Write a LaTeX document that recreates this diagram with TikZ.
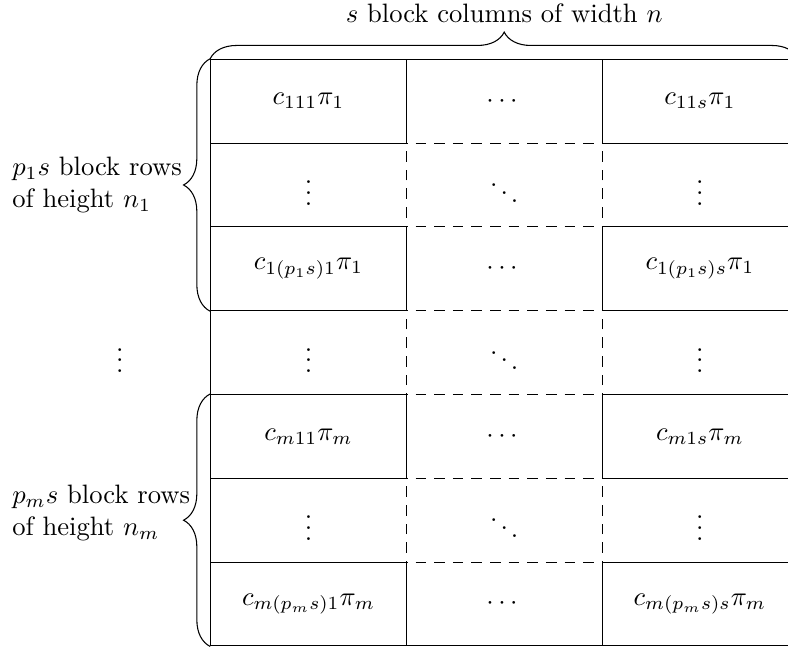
\documentclass[tikz,border=0pt]{standalone}
\usepackage{amsmath}
\usepackage{amssymb}
\usetikzlibrary{calc,decorations,decorations.pathreplacing,positioning}

\tikzset{
  cell/.style={minimum width=2.585cm,minimum height=1.107cm,inner sep=0pt},
  ccell/.style={cell,draw},
  brc/.style={decorate,decoration={brace,amplitude=10pt}},
  lbl/.style={anchor=west,align=left,inner sep=0pt}
}

\begin{document}
\begin{tikzpicture}
  \useasboundingbox (-2.783,0.783) rectangle (7.626,-7.777);
  % dashed block grid, solid outline
  \draw[dash pattern=on 4pt off 3pt] (0,-7.749) grid[xstep=2.585,ystep=1.107] (7.755,0);
  \draw (0,0) rectangle (7.755,-7.749);
  % first group
  \node[ccell] (c11) at (1.2925,-0.5535) {$c_{111}\pi_1$};
  \node[cell]  (c12) at (3.8775,-0.5535) {$\cdots$};
  \node[ccell] (c13) at (6.4625,-0.5535) {$c_{11s}\pi_1$};
  \node[cell]  (c21) at (1.2925,-1.6605) {$\vdots$};
  \node[cell]  (c22) at (3.8775,-1.6605) {$\ddots$};
  \node[cell]  (c23) at (6.4625,-1.6605) {$\vdots$};
  \node[ccell] (c31) at (1.2925,-2.7675) {$c_{1(p_1s)1}\pi_1$};
  \node[cell]  (c32) at (3.8775,-2.7675) {$\cdots$};
  \node[ccell] (c33) at (6.4625,-2.7675) {$c_{1(p_1s)s}\pi_1$};
  % gap
  \node[cell]  (c41) at (1.2925,-3.8745) {$\vdots$};
  \node[cell]  (c42) at (3.8775,-3.8745) {$\ddots$};
  \node[cell]  (c43) at (6.4625,-3.8745) {$\vdots$};
  \node        (gap) at (-1.2,-3.8745)   {$\vdots$};
  % last group
  \node[ccell] (c51) at (1.2925,-4.9815) {$c_{m11}\pi_m$};
  \node[cell]  (c52) at (3.8775,-4.9815) {$\cdots$};
  \node[ccell] (c53) at (6.4625,-4.9815) {$c_{m1s}\pi_m$};
  \node[cell]  (c61) at (1.2925,-6.0885) {$\vdots$};
  \node[cell]  (c62) at (3.8775,-6.0885) {$\ddots$};
  \node[cell]  (c63) at (6.4625,-6.0885) {$\vdots$};
  \node[ccell] (c71) at (1.2925,-7.1955) {$c_{m(p_ms)1}\pi_m$};
  \node[cell]  (c72) at (3.8775,-7.1955) {$\cdots$};
  \node[ccell] (c73) at (6.4625,-7.1955) {$c_{m(p_ms)s}\pi_m$};
  % braces
  \draw[brc] (c11.north west) -- (c13.north east)
        node[midway,above=10pt] (cols) {$s$ block columns of width $n$};
  \draw[brc] (c31.south west) -- (c11.north west);
  \draw[brc] (c71.south west) -- (c51.north west);
  \node[lbl] (rows1) at (-2.628,-1.6605) {$p_1s$ block rows\\of height $n_1$};
  \node[lbl] (rowsm) at (-2.628,-5.99)   {$p_ms$ block rows\\of height $n_m$};
\end{tikzpicture}
\end{document}
